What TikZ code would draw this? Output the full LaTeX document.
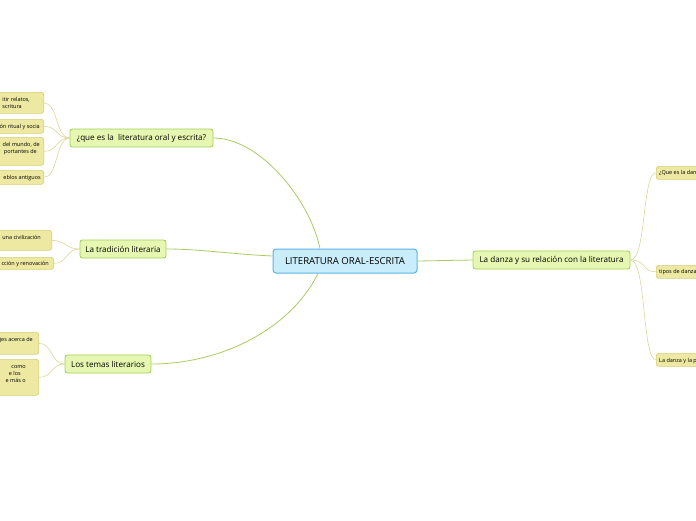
\documentclass[tikz,border=0pt]{standalone}
\usepackage{fontspec}
\setmainfont{Open Sans}
\begin{document}
\begin{tikzpicture}[x=1pt,y=-1pt,
  mainbox/.style={draw=mainborder, fill=mainfill, line width=0.9pt, rounded corners=2.5pt, inner sep=0pt, font=\fontsize{8.1}{9}\selectfont, text=black},
  centerbox/.style={draw=cborder, fill=cfill, line width=1pt, rounded corners=3pt, inner sep=0pt, font=\fontsize{9.6}{11}\selectfont, text=black},
  leafbox/.style={draw=leafborder, fill=leaffill, line width=0.7pt, rounded corners=2.5pt},
  leaftxt/.style={inner sep=0pt, font=\fontsize{5.5}{6}\selectfont, text=black},
  mainline/.style={draw=mainline, line width=0.8pt},
  leafline/.style={draw=leafline, line width=0.6pt}
]
\definecolor{mainborder}{HTML}{A8CF5E}
\definecolor{mainfill}{HTML}{E5F7B0}
\definecolor{cborder}{HTML}{5CB2E2}
\definecolor{cfill}{HTML}{C9EDFB}
\definecolor{leafborder}{HTML}{D6D07A}
\definecolor{leaffill}{HTML}{EDE9A2}
\definecolor{mainline}{HTML}{A9CB62}
\definecolor{leafline}{HTML}{DCD79A}
\useasboundingbox (0,0) rectangle (696,520);
\clip (0,0) rectangle (696,520);

% main nodes
\node[centerbox, minimum width=144pt, minimum height=24pt] (c) at (345,261) {LITERATURA ORAL-ESCRITA};
\node[mainbox, minimum width=143pt, minimum height=18pt] (q) at (141.5,138) {¿que es la \ literatura oral y escrita?};
\node[mainbox, minimum width=86pt, minimum height=18pt] (t) at (123,249) {La tradición literaria};
\node[mainbox, minimum width=86pt, minimum height=18pt] (m) at (108,364) {Los temas literarios};
\node[mainbox, minimum width=157pt, minimum height=18pt] (d) at (551.5,260) {La danza y su relación con la literatura};

% main connectors
\draw[mainline] (c.north) ++(-25,0) coordinate (c1) .. controls (310,200) and (260,138) .. (q.east);
\draw[mainline] (c.west) ++(0,-5) coordinate (c2) .. controls (230,254) and (200,249) .. (t.east);
\draw[mainline] (c.south) ++(-27,0) coordinate (c3) .. controls (290,330) and (220,364) .. (m.east);
\draw[mainline] (c.east) -- (d.west);

% left leaves: que es
\node[leafbox, minimum width=60pt, minimum height=21pt, anchor=north east] (l1) at (44,92) {};
\node[leafbox, minimum width=60pt, minimum height=14pt, anchor=north east] (l2) at (44,119) {};
\node[leafbox, minimum width=60pt, minimum height=28pt, anchor=north east] (l3) at (44,137) {};
\node[leafbox, minimum width=60pt, minimum height=14pt, anchor=north east] (l4) at (44,170) {};
\node[leaftxt, anchor=base east] (l1a) at (30,101) {itir relatos,};
\node[leaftxt, anchor=base east] (l1b) at (22,108) {scritura};
\node[leaftxt, anchor=base east] (l2a) at (40,128) {ón ritual y socia};
\node[leaftxt, anchor=base east] (l3a) at (40,146) {del mundo, de};
\node[leaftxt, anchor=base east] (l3b) at (37,153) {portantes de};
\node[leaftxt, anchor=base east] (l4a) at (41,179) {eblos antiguos};
\foreach \n in {l1,l2,l3,l4}
  \draw[leafline] (q.west) .. controls ([xshift=-14pt]q.west) and ([xshift=14pt]\n.east) .. (\n.east);

% left leaves: tradicion
\node[leafbox, minimum width=70pt, minimum height=20pt, anchor=north east] (t1) at (52,230) {};
\node[leafbox, minimum width=70pt, minimum height=12pt, anchor=north east] (t2) at (54,257) {};
\node[leaftxt, anchor=base east] (t1a) at (41,239) {una civilización};
\node[leaftxt, anchor=base east] (t2a) at (49,265) {cción y renovación};
\foreach \n in {t1,t2}
  \draw[leafline] (t.west) .. controls ([xshift=-14pt]t.west) and ([xshift=14pt]\n.east) .. (\n.east);

% left leaves: temas
\node[leafbox, minimum width=60pt, minimum height=22pt, anchor=north east] (m1) at (39,332) {};
\node[leafbox, minimum width=60pt, minimum height=36pt, anchor=north east] (m2) at (39,359) {};
\node[leaftxt, anchor=base east] (m1a) at (33,341) {jes acerca de};
\node[leaftxt, anchor=base east] (m2a) at (26,368) {como};
\node[leaftxt, anchor=base east] (m2b) at (21,375) {e los};
\node[leaftxt, anchor=base east] (m2c) at (26,382.5) {e más o};
\foreach \n in {m1,m2}
  \draw[leafline] (m.west) .. controls ([xshift=-14pt]m.west) and ([xshift=14pt]\n.east) .. (\n.east);

% right leaves
\node[leafbox, minimum width=60pt, minimum height=13pt, anchor=north west] (r1) at (656,166) {};
\node[leafbox, minimum width=60pt, minimum height=13pt, anchor=north west] (r2) at (656,265) {};
\node[leafbox, minimum width=60pt, minimum height=13pt, anchor=north west] (r3) at (656,353) {};
\node[leaftxt, anchor=base west] (r1a) at (659,174.5) {¿Que es la dan};
\node[leaftxt, anchor=base west] (r2a) at (659,273.5) {tipos de danza};
\node[leaftxt, anchor=base west] (r3a) at (659,362) {La danza y la p};
\foreach \n in {r1,r2,r3}
  \draw[leafline] (d.east) .. controls ([xshift=16pt]d.east) and ([xshift=-14pt]\n.west) .. (\n.west);
\end{tikzpicture}
\end{document}
